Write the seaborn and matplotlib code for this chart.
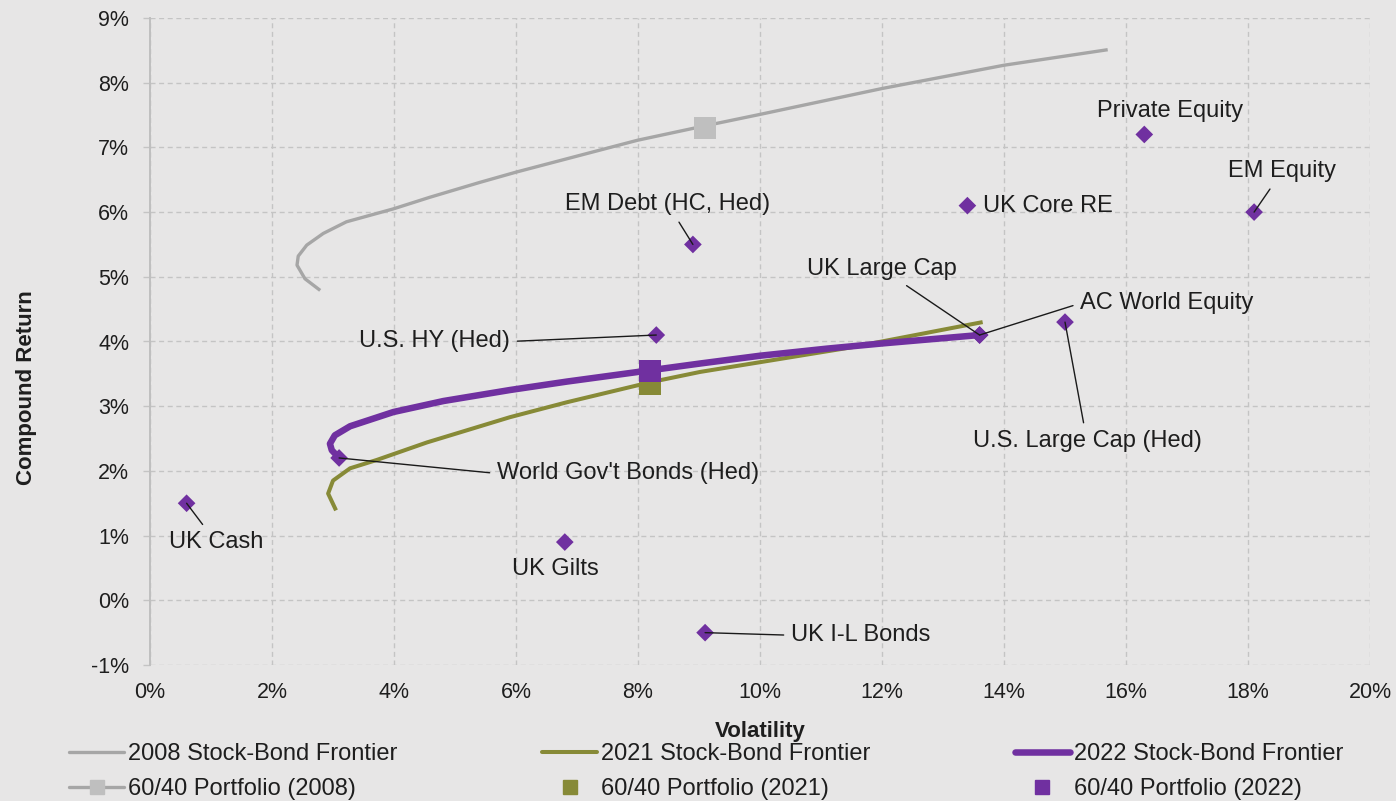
import matplotlib
matplotlib.use("Agg")
import matplotlib.pyplot as plt
from matplotlib.lines import Line2D
from matplotlib.ticker import FuncFormatter
import seaborn as sns
import pandas as pd

# ---- asset-class capital market assumptions (volatility %, compound return %) ----
assets = ["UK Cash", "UK Gilts", "UK I-L Bonds", "World Gov't Bonds (Hed)",
          "U.S. HY (Hed)", "EM Debt (HC, Hed)", "UK Core RE", "Private Equity",
          "EM Equity", "UK Large Cap", "AC World Equity", "U.S. Large Cap (Hed)"]
asset_vol = [0.6, 6.8, 9.1, 3.1, 8.3, 8.9, 13.4, 16.3, 18.1, 13.6, 13.6, 15.0]
asset_ret = [1.5, 0.9, -0.5, 2.2, 4.1, 5.5, 6.1, 7.2, 6.0, 4.1, 4.1, 4.3]

# ---- stock-bond efficient frontiers ----
frontier_2008_vol = [2.79, 2.54, 2.41, 2.43, 2.57, 2.84, 3.22, 3.99, 4.59, 5.41,
                     6.01, 7.10, 7.99, 9.08, 10.0, 12.0, 14.0, 15.7]
frontier_2008_ret = [4.79, 4.97, 5.18, 5.32, 5.49, 5.67, 5.85, 6.05, 6.23, 6.46,
                     6.62, 6.89, 7.11, 7.33, 7.51, 7.91, 8.27, 8.51]

frontier_2021_vol = [3.05, 2.92, 3.00, 3.28, 3.72, 4.54, 5.90, 6.83, 8.20, 9.02,
                     10.0, 11.5, 13.65]
frontier_2021_ret = [1.39, 1.65, 1.85, 2.04, 2.17, 2.44, 2.83, 3.06, 3.37, 3.53,
                     3.68, 3.91, 4.30]

frontier_2022_vol = [3.10, 2.98, 2.95, 3.03, 3.28, 3.99, 4.81, 5.90, 6.83, 8.16,
                     9.02, 10.0, 11.1, 12.0, 13.6]
frontier_2022_ret = [2.20, 2.32, 2.42, 2.55, 2.69, 2.91, 3.08, 3.25, 3.38, 3.55,
                     3.66, 3.78, 3.89, 3.97, 4.10]

frontier_labels = ["2008 Stock-Bond Frontier", "2021 Stock-Bond Frontier",
                   "2022 Stock-Bond Frontier"]

# ---- 60/40 portfolios ----
portfolio_labels = ["60/40 Portfolio (2008)", "60/40 Portfolio (2021)",
                    "60/40 Portfolio (2022)"]
portfolio_vol = [9.1, 8.2, 8.2]
portfolio_ret = [7.3, 3.35, 3.55]

x_ticks = list(range(0, 21, 2))
y_ticks = list(range(-1, 10))

# ---- styling ----
BG = "#E7E6E6"
GRID = "#C4C4C4"
TEXT = "#1E1E1E"
C_2008_LINE = "#A6A6A6"
C_2008_MARK = "#BFBFBF"
C_2021 = "#878A37"
C_2022 = "#7030A0"

sns.set_theme(style="white")
plt.rcParams["font.family"] = ["Liberation Sans", "DejaVu Sans"]
plt.rcParams["text.color"] = TEXT

fig = plt.figure(figsize=(13.96, 8.01), dpi=100, facecolor=BG)
ax = fig.add_axes([150 / 1396, 1 - 665 / 801, (1370 - 150) / 1396, (665 - 18) / 801])
ax.set_facecolor(BG)

frontiers = pd.DataFrame({
    "vol": frontier_2008_vol + frontier_2021_vol + frontier_2022_vol,
    "ret": frontier_2008_ret + frontier_2021_ret + frontier_2022_ret,
    "series": [frontier_labels[0]] * len(frontier_2008_vol)
    + [frontier_labels[1]] * len(frontier_2021_vol)
    + [frontier_labels[2]] * len(frontier_2022_vol),
})
line_colors = dict(zip(frontier_labels, [C_2008_LINE, C_2021, C_2022]))
line_widths = dict(zip(frontier_labels, [2.4, 2.9, 4.7]))

for name in frontier_labels:
    sub = frontiers[frontiers["series"] == name]
    sns.lineplot(data=sub, x="vol", y="ret", sort=False, estimator=None,
                 color=line_colors[name], linewidth=line_widths[name],
                 ax=ax, legend=False, zorder=3,
                 solid_capstyle="butt", solid_joinstyle="round")

# 60/40 portfolio markers (2021 under 2022)
port = pd.DataFrame({"vol": portfolio_vol, "ret": portfolio_ret,
                     "name": portfolio_labels})
port_colors = [C_2008_MARK, C_2021, C_2022]
for i in [0, 1, 2]:
    sns.scatterplot(data=port.iloc[[i]], x="vol", y="ret", marker="s",
                    s=16 ** 2, color=port_colors[i], edgecolor="none",
                    linewidth=0, ax=ax, legend=False, zorder=4)

# asset-class diamonds
pts = pd.DataFrame({"asset": assets, "vol": asset_vol, "ret": asset_ret})
sns.scatterplot(data=pts, x="vol", y="ret", marker="D", s=9 ** 2,
                color=C_2022, edgecolor="none", linewidth=0, ax=ax,
                legend=False, zorder=5)

# label placement: (text x, text y, ha, leader line?, relpos of leader start)
label_layout = {
    "Private Equity": (16.72, 7.56, "center", False, None),
    "EM Equity": (18.56, 6.63, "center", True, (0.5, 0.5)),
    "UK Core RE": (13.66, 6.10, "left", False, None),
    "EM Debt (HC, Hed)": (8.49, 6.12, "center", True, (0.5, 0.5)),
    "UK Large Cap": (12.0, 5.12, "center", True, (0.5, 0.5)),
    "AC World Equity": (15.25, 4.59, "left", True, (0.0, 0.5)),
    "U.S. Large Cap (Hed)": (15.36, 2.46, "center", True, (0.5, 0.5)),
    "U.S. HY (Hed)": (5.90, 4.00, "right", True, (1.0, 0.5)),
    "World Gov't Bonds (Hed)": (5.69, 1.96, "left", True, (0.0, 0.5)),
    "UK Cash": (1.08, 0.90, "center", True, (0.5, 0.5)),
    "UK Gilts": (6.64, 0.49, "center", False, None),
    "UK I-L Bonds": (10.51, -0.54, "left", True, (0.0, 0.5)),
}
for a, v, r in zip(assets, asset_vol, asset_ret):
    tx, ty, ha, leader, relpos = label_layout[a]
    props = None
    if leader:
        props = dict(arrowstyle="-", color="#1A1A1A", lw=1.0,
                     shrinkA=3, shrinkB=0, relpos=relpos)
    ax.annotate(a, xy=(v, r), xytext=(tx, ty), textcoords="data",
                ha=ha, va="center", fontsize=17, color=TEXT,
                arrowprops=props, zorder=6)

# axes, grid and ticks
ax.set_xlim(0, 20)
ax.set_ylim(-1, 9)
ax.set_xticks(x_ticks)
ax.set_yticks(y_ticks)
pct = FuncFormatter(lambda v, _: f"{v:.0f}%")
ax.xaxis.set_major_formatter(pct)
ax.yaxis.set_major_formatter(pct)
ax.grid(True, color=GRID, linestyle=(0, (3.6, 2.6)), linewidth=1.0, zorder=0)
ax.set_axisbelow(True)
for side in ["top", "right", "bottom"]:
    ax.spines[side].set_visible(False)
ax.spines["left"].set_color("#BFBFBF")
ax.spines["left"].set_linewidth(1.4)
ax.tick_params(axis="y", which="major", length=5, color="#C4C4C4", width=1,
               pad=10, labelsize=15.5, labelcolor=TEXT, left=True)
ax.tick_params(axis="x", which="major", length=0, pad=12, labelsize=15.5,
               labelcolor=TEXT)

ax.set_xlabel("Volatility", fontsize=16, fontweight="bold", color=TEXT)
ax.xaxis.set_label_coords(0.5, -(732 - 665) / 647)
ax.xaxis.label.set_va("center")
ax.set_ylabel("Compound Return", fontsize=16, fontweight="bold", color=TEXT)
ax.yaxis.set_label_coords(-(150 - 27) / 1220, (665 - 388) / 647)
ax.yaxis.label.set_va("center")

# legend: three columns of frontier / portfolio entries
handles = [
    Line2D([], [], color=C_2008_LINE, lw=2.4),
    Line2D([], [], color=C_2008_LINE, lw=2.4, marker="s", markersize=10,
           markerfacecolor=C_2008_MARK, markeredgecolor=C_2008_MARK),
    Line2D([], [], color=C_2021, lw=2.9),
    Line2D([], [], ls="none", marker="s", markersize=10,
           markerfacecolor=C_2021, markeredgecolor=C_2021),
    Line2D([], [], color=C_2022, lw=4.7),
    Line2D([], [], ls="none", marker="s", markersize=10,
           markerfacecolor=C_2022, markeredgecolor=C_2022),
]
labels = [frontier_labels[0], portfolio_labels[0], frontier_labels[1],
          portfolio_labels[1], frontier_labels[2], portfolio_labels[2]]
fig.legend(handles, labels, ncol=3, mode="expand", loc="upper left",
           bbox_to_anchor=(69 / 1396, 0.0, (1343 - 69) / 1396, 1 - 743 / 801),
           frameon=False, fontsize=17, borderaxespad=0, borderpad=0,
           handlelength=2.35, handletextpad=0.15, labelspacing=0.55,
           labelcolor=TEXT)

fig.savefig("out.png", dpi=100, facecolor=BG)
